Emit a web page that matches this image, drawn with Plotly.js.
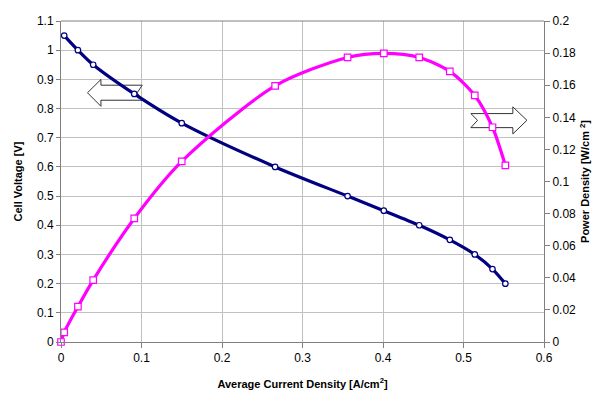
<!DOCTYPE html>
<html>
<head>
<meta charset="utf-8">
<script src="https://cdn.plot.ly/plotly-3.0.1.min.js"></script>
<style>html,body{margin:0;padding:0;background:#fff;}#chart{width:600px;height:395px;}</style>
</head>
<body>
<div id="chart"></div>
<script>
// Data
const currentDensity = [0.004, 0.021, 0.040, 0.091, 0.150, 0.266, 0.356, 0.401, 0.445, 0.483, 0.514, 0.536, 0.552];
const cellVoltage    = [1.05, 1.00, 0.95, 0.85, 0.75, 0.60, 0.50, 0.45, 0.40, 0.35, 0.30, 0.25, 0.20];
const powerCurrent   = [0, 0.004, 0.021, 0.040, 0.091, 0.150, 0.266, 0.356, 0.401, 0.445, 0.483, 0.514, 0.536, 0.552];
const powerDensity   = [0, 0.006, 0.022, 0.0386, 0.077, 0.1125, 0.1596, 0.1773, 0.1798, 0.1773, 0.1686, 0.1536, 0.1338, 0.110];

const font = {family: 'Liberation Sans, Arial, sans-serif', color: '#000'};

const traces = [
  {
    x: currentDensity, y: cellVoltage, type: 'scatter', mode: 'lines+markers',
    line: {color: '#000080', width: 3.2, shape: 'spline', smoothing: 0.8},
    marker: {symbol: 'circle', size: 5.5, color: '#ffffff', line: {color: '#000080', width: 1.2}},
    yaxis: 'y', cliponaxis: false, showlegend: false
  },
  {
    x: powerCurrent, y: powerDensity, type: 'scatter', mode: 'lines+markers',
    line: {color: '#ff00ff', width: 3.2, shape: 'spline', smoothing: 0.8},
    marker: {symbol: 'square', size: 6.5, color: '#ffffff', line: {color: '#ff00ff', width: 1.2}},
    yaxis: 'y2', cliponaxis: false, showlegend: false
  }
];

const leftArrow = 'M 0.0329 0.854 L 0.0496 0.8996 L 0.0496 0.880 L 0.1009 0.880 L 0.0946 0.854 L 0.1009 0.8285 L 0.0496 0.8285 L 0.0496 0.8078 Z';
const rightArrow = 'M 0.5091 0.7827 L 0.5175 0.7597 L 0.5091 0.7346 L 0.5613 0.7346 L 0.5613 0.7130 L 0.5788 0.7597 L 0.5613 0.8058 L 0.5613 0.7827 Z';

const layout = {
  width: 600, height: 395,
  margin: {l: 61, r: 56, t: 21, b: 53, pad: 0},
  paper_bgcolor: '#fff', plot_bgcolor: '#fff',
  font: Object.assign({size: 12}, font),
  showlegend: false,
  xaxis: {
    range: [0, 0.6], dtick: 0.1, tick0: 0,
    showgrid: true, gridcolor: '#c0c0c0', gridwidth: 1,
    zeroline: false, showline: true, linecolor: '#808080', linewidth: 1,
    ticks: 'outside', ticklen: 5, tickcolor: '#808080',
    tickfont: Object.assign({size: 12}, font),
    title: {text: '<b>Average Current Density [A/cm<sup>2</sup>]</b>', font: Object.assign({size: 11}, font), standoff: 15},
    mirror: false
  },
  yaxis: {
    range: [0, 1.1], dtick: 0.1, tick0: 0,
    showgrid: true, gridcolor: '#c0c0c0', gridwidth: 1,
    zeroline: false, showline: true, linecolor: '#808080', linewidth: 1,
    ticks: 'outside', ticklen: 4, tickcolor: '#808080',
    tickfont: Object.assign({size: 12}, font),
    title: {text: '<b>Cell Voltage [V]</b>', font: Object.assign({size: 11}, font), standoff: 12}
  },
  yaxis2: {
    range: [0, 0.2], dtick: 0.02, tick0: 0,
    overlaying: 'y', side: 'right',
    showgrid: false, zeroline: false, showline: true, linecolor: '#808080', linewidth: 1,
    ticks: 'outside', ticklen: 5, tickcolor: '#808080',
    tickfont: Object.assign({size: 12}, font),
    title: {text: '<b>Power Density [W/cm <sup>2</sup>]</b>', font: Object.assign({size: 11}, font), standoff: 6}
  },
  shapes: [
    {type: 'line', xref: 'paper', yref: 'paper', x0: 0, x1: 1, y0: 1, y1: 1, line: {color: '#808080', width: 1}},
    {type: 'path', xref: 'x', yref: 'y', path: leftArrow, fillcolor: '#ffffff', line: {color: '#333333', width: 1}, layer: 'between'},
    {type: 'path', xref: 'x', yref: 'y', path: rightArrow, fillcolor: '#ffffff', line: {color: '#333333', width: 1}, layer: 'between'}
  ]
};

Plotly.newPlot('chart', traces, layout, {displayModeBar: false, staticPlot: true});
</script>
</body>
</html>
